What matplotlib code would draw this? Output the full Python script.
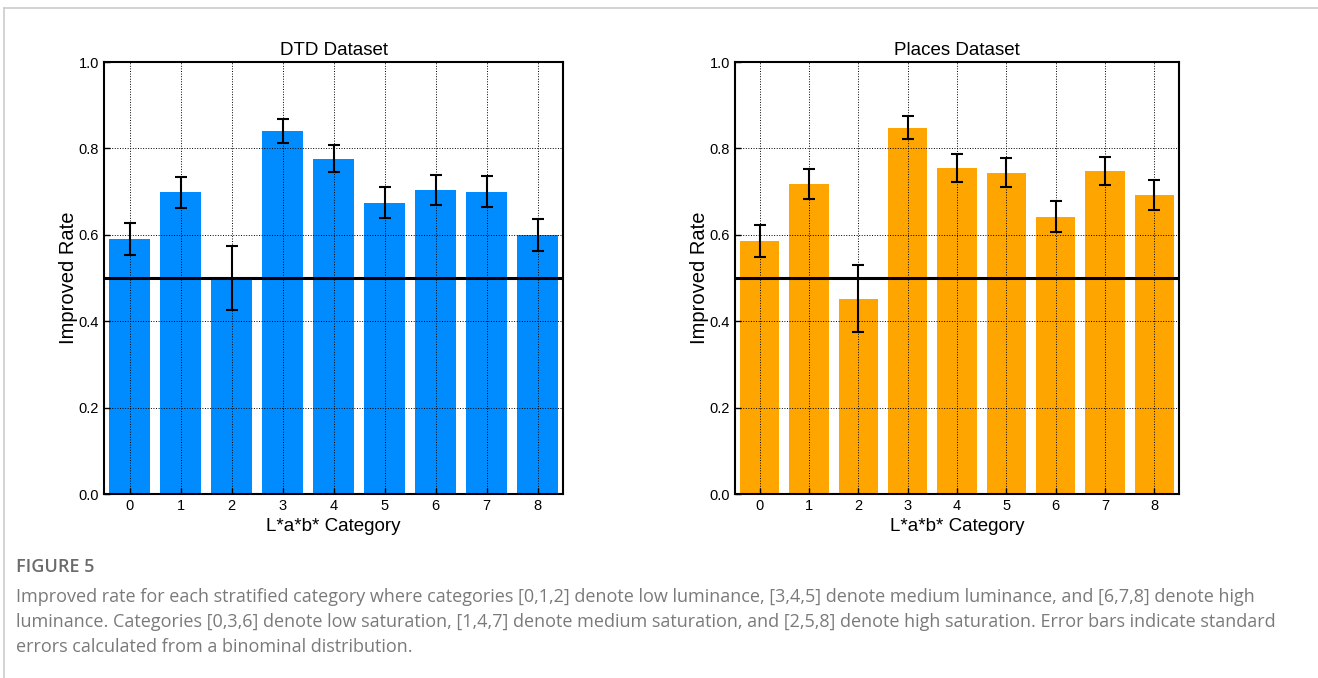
import matplotlib
matplotlib.use("Agg")
import matplotlib.pyplot as plt
from matplotlib.lines import Line2D
import numpy as np

plt.rcParams["font.family"] = ["Liberation Sans", "DejaVu Sans"]

categories = [0, 1, 2, 3, 4, 5, 6, 7, 8]

dtd_rate = [0.591, 0.698, 0.500, 0.841, 0.776, 0.674, 0.704, 0.700, 0.600]
dtd_err = [0.037, 0.0355, 0.074, 0.028, 0.0315, 0.0355, 0.035, 0.035, 0.0375]

places_rate = [0.586, 0.718, 0.452, 0.848, 0.755, 0.744, 0.642, 0.748, 0.693]
places_err = [0.0375, 0.034, 0.077, 0.027, 0.0325, 0.033, 0.036, 0.0325, 0.035]

titles = ["DTD Dataset", "Places Dataset"]
colors = ["#008cff", "#ffa500"]

caption_head = "FIGURE 5"
caption_lines = [
    "Improved rate for each stratified category where categories [0,1,2] denote low luminance, [3,4,5] denote medium luminance, and [6,7,8] denote high",
    "luminance. Categories [0,3,6] denote low saturation, [1,4,7] denote medium saturation, and [2,5,8] denote high saturation. Error bars indicate standard",
    "errors calculated from a binominal distribution.",
]

W, H = 1318, 678
fig = plt.figure(figsize=(W / 100, H / 100), dpi=100)

# axes boxes in pixels: left, top, right, bottom
boxes = [(104, 62, 563, 494), (735, 62, 1179, 494)]
series = [(dtd_rate, dtd_err), (places_rate, places_err)]

for (l, t, r, b), (rate, err), title, col in zip(boxes, series, titles, colors):
    ax = fig.add_axes([l / W, 1 - b / H, (r - l) / W, (b - t) / H])
    x = np.array(categories)
    ax.bar(x, rate, width=0.8, color=col, zorder=1)
    ax.errorbar(x, rate, yerr=err, fmt="none", ecolor="black", elinewidth=1.5,
                capsize=4, capthick=1.5, zorder=4)
    ax.axhline(0.5, color="black", lw=2.2, zorder=3)
    ax.set_xlim(-0.5, 8.5)
    ax.set_ylim(0, 1.0)
    ax.set_xticks(x)
    ax.set_yticks(np.arange(0, 1.01, 0.2))
    ax.set_yticklabels(["{:.1f}".format(v) for v in np.arange(0, 1.01, 0.2)])
    ax.set_axisbelow(False)
    ax.grid(True, color="black", linestyle=":", linewidth=0.7, zorder=2)
    ax.tick_params(direction="in", length=4, width=1, labelsize=10.5, colors="black")
    for s in ax.spines.values():
        s.set_linewidth(1.5)
        s.set_zorder(5)
    ax.set_title(title, fontsize=13.5, pad=5)
    ax.set_xlabel("L*a*b* Category", fontsize=13.5, labelpad=4)
    ax.set_ylabel("Improved Rate", fontsize=14.5, labelpad=0.5)

# card border
fig.add_artist(Line2D([4 / W, 4 / W], [0, 1 - 8 / H], color="#cccccc", lw=1.2))
fig.add_artist(Line2D([4 / W, 1], [1 - 8 / H, 1 - 8 / H], color="#cccccc", lw=1.2))

cap_font = ["Open Sans", "DejaVu Sans"]
fig.text(16 / W, 1 - 567 / H, caption_head, family=cap_font, fontsize=13,
         fontweight="semibold", color="#6b6b6b", va="center")
for i, line in enumerate(caption_lines):
    fig.text(16 / W, 1 - (597 + 25 * i) / H, line, family=cap_font, fontsize=13.0,
             color="#7a7a7a", va="center")

fig.savefig("out.png", dpi=100)
